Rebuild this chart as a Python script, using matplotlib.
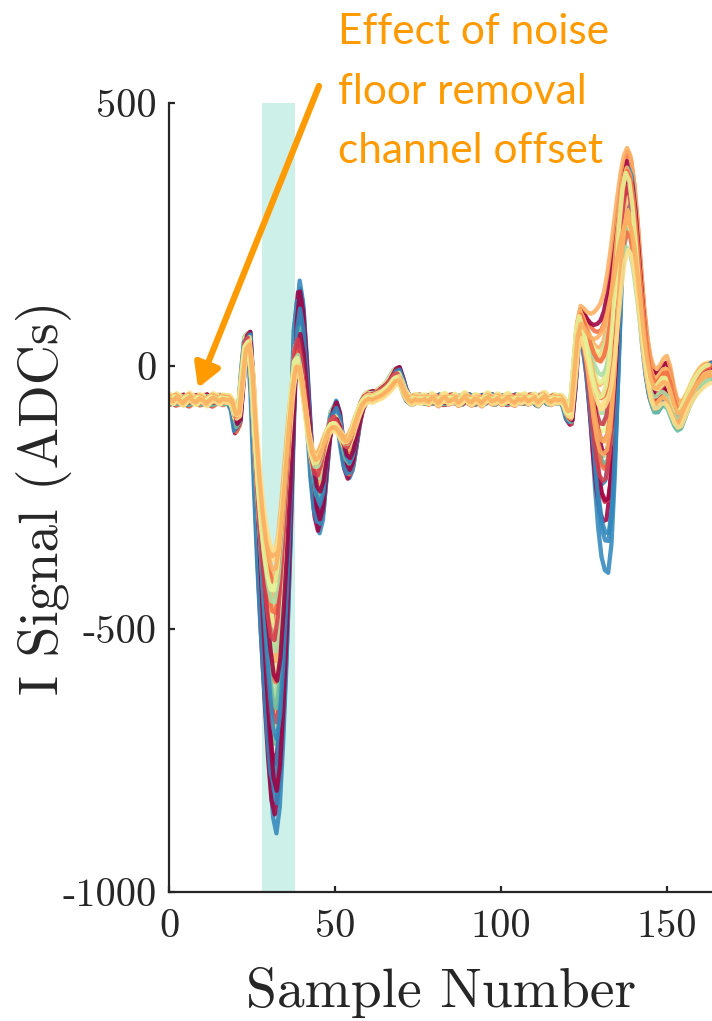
import numpy as np
import matplotlib
matplotlib.use("Agg")
import matplotlib.pyplot as plt

# ---------------- data ----------------
samples = np.arange(0, 164)

# baseline noise floor, two observed patterns (samples 0..16 and 77..115)
pre_a = [-60, -66, -58, -64, -70, -62, -57, -65, -68, -60, -63, -71, -64, -58, -62, -67, -61]
pre_b = [-68, -62, -70, -65, -59, -67, -72, -63, -60, -69, -66, -58, -67, -72, -65, -60, -68]
mid_a = [-62, -67, -59, -63, -70, -61, -58, -66, -64, -60, -69, -63, -57, -65, -68, -61, -63,
         -70, -62, -58, -66, -64, -60, -67, -63, -58, -65, -69, -61, -64, -59, -66, -63, -60,
         -68, -62, -57, -64, -67]
mid_b = [-66, -60, -68, -64, -58, -67, -71, -62, -59, -66, -61, -69, -65, -58, -63, -70, -64,
         -59, -67, -62, -58, -68, -63, -60, -66, -71, -62, -58, -65, -61, -68, -63, -59, -66,
         -70, -62, -60, -67, -63]

# first reflection, samples 17..76
p1_strong = [-64, -66, -80, -125, -110, -15, 55, 62, -60, -250,
             -410, -545, -665, -775, -860, -890, -840, -720, -570, -380,
             -150, 90, 160, 120, 20, -100, -215, -290, -320, -295,
             -220, -140, -85, -68, -90, -150, -195, -215, -200, -160,
             -115, -80, -62, -55, -52, -56, -50, -45, -40, -32,
             -20, -8, -5, -25, -48, -62, -66, -63, -60, -62]
p1_weak = [-63, -63, -70, -88, -85, -25, 30, 40, -10, -110,
           -190, -255, -300, -330, -345, -340, -300, -235, -160, -90,
           -35, -10, -15, -50, -95, -135, -160, -168, -160, -145,
           -130, -120, -118, -120, -128, -135, -138, -132, -118, -100,
           -85, -72, -65, -62, -64, -60, -58, -55, -50, -45,
           -38, -30, -28, -40, -55, -63, -67, -62, -65, -64]

# second reflection, samples 116..163
p2_weak = [-62, -64, -63, -70, -85, -85, -25, 35, 55, 45,
           30, 20, 15, 15, 22, 35, 55, 75, 100, 130,
           155, 172, 180, 172, 145, 105, 60, 15, -25, -55,
           -70, -68, -62, -62, -70, -85, -100, -108, -105, -92,
           -78, -66, -57, -50, -45, -40, -37, -35]
p2_deep = [-62, -64, -63, -72, -100, -112, -50, 40, 70, 20,
           -40, -130, -230, -310, -365, -390, -395, -340, -210, -30,
           160, 300, 365, 350, 290, 200, 110, 30, -30, -70,
           -90, -90, -80, -72, -78, -95, -112, -122, -118, -100,
           -80, -62, -48, -35, -24, -14, -6, 0]
p2_tall = [-62, -64, -63, -70, -85, -80, 10, 90, 120, 115,
           108, 105, 108, 115, 125, 145, 180, 225, 275, 325,
           370, 405, 420, 405, 360, 290, 205, 125, 65, 25,
           5, 0, 8, 20, 25, 5, -30, -55, -62, -58,
           -48, -35, -20, -8, 2, 8, 10, 10]

palette = ["#9e0142", "#d53e4f", "#f46d43", "#fdae61", "#fee08b",
           "#e6f598", "#abdda4", "#66c2a5", "#3288bd"]
ch_color = [8, 0, 6, 1, 7, 2, 5, 8, 0, 3, 6, 4, 1, 2, 8, 5, 0, 3, 7, 4,
            2, 6, 1, 3, 8, 4, 5, 0, 3, 2, 4, 1, 3, 6, 4, 2, 3, 4, 5, 3]
ch_a = [1.00, 0.92, 0.78, 0.85, 0.70, 0.80, 0.62, 0.90, 0.75, 0.58,
        0.52, 0.66, 0.60, 0.48, 0.82, 0.44, 0.86, 0.40, 0.55, 0.36,
        0.32, 0.38, 0.28, 0.26, 0.68, 0.22, 0.30, 0.46, 0.18, 0.24,
        0.14, 0.34, 0.10, 0.20, 0.06, 0.12, 0.04, 0.00, 0.16, 0.08]
ch_c = [1.00, 0.80, 0.55, 0.60, 0.45, 0.10, 0.40, 0.85, 0.05, 0.30,
        0.35, 0.20, 0.70, 0.50, 0.65, 0.25, 0.75, 0.15, 0.50, 0.40,
        0.60, 0.20, 0.45, 0.00, 0.90, 0.30, 0.10, 0.55, 0.35, 0.25,
        0.15, 0.65, 0.45, 0.05, 0.10, 0.20, 0.50, 0.25, 0.35, 0.00]
ch_p = [0.00, 0.15, 0.20, 0.30, 0.35, 0.90, 0.10, 0.05, 0.85, 0.50,
        0.25, 0.60, 0.10, 0.30, 0.20, 0.40, 0.20, 0.70, 0.00, 0.45,
        0.25, 0.30, 0.40, 1.00, 0.10, 0.20, 0.35, 0.35, 0.55, 0.10,
        0.50, 0.15, 0.15, 0.15, 0.30, 0.65, 0.05, 0.00, 0.50, 0.40]
ch_offset = [2, -6, 5, -3, 7, -8, 0, 4, -4, 6, -2, 8, -7, 3, -5, 1, 6, -1, -8, 4,
             -3, 7, 2, -6, 5, -2, 8, -5, 0, 3, -7, 6, -4, 1, 7, -3, 4, -6, 2, -1]
ch_shift = [0.3, -0.2, 0.1, 0.4, -0.4, 0.2, -0.1, 0.5, 0.0, -0.3,
            0.2, -0.2, 0.3, 0.1, -0.5, 0.0, 0.4, -0.1, 0.2, -0.3,
            0.1, 0.3, -0.2, 0.0, 0.4, -0.4, 0.2, 0.5, -0.1, 0.0,
            0.3, -0.3, 0.1, -0.2, 0.2, 0.0, -0.1, 0.3, -0.4, 0.1]

band_x = (28, 38)

xticks = [0, 50, 100, 150]
yticks = [-1000, -500, 0, 500]
ytick_labels = ["-1000", "-500", "0", "500"]

# ---------------- figure ----------------
plt.rcParams["font.family"] = "cmr10"
plt.rcParams["axes.unicode_minus"] = False
plt.rcParams["mathtext.fontset"] = "cm"

W, H = 712, 1021
fig = plt.figure(figsize=(W / 100, H / 100), dpi=100)
ax = fig.add_axes([169.3 / W, 1 - 892.3 / H, 1 - 169.3 / W, (892.3 - 102.7) / H])

pa, pb = np.array(pre_a, float), np.array(pre_b, float)
ma, mb = np.array(mid_a, float), np.array(mid_b, float)
s1, w1 = np.array(p1_strong, float), np.array(p1_weak, float)
wk, dp, tl = np.array(p2_weak, float), np.array(p2_deep, float), np.array(p2_tall, float)

for col, a, c, p, off, sh in zip(ch_color, ch_a, ch_c, ch_p, ch_offset, ch_shift):
    y = np.concatenate([
        pa + a * (pb - pa),
        w1 + a * (s1 - w1),
        ma + c * (mb - ma),
        wk + c * (dp - wk) + p * (tl - wk),
    ]) + off
    ax.plot(samples + sh, y, color=palette[col], lw=3.1, alpha=0.88,
            solid_joinstyle="round", solid_capstyle="round", zorder=2)

ax.axvspan(band_x[0], band_x[1], color="#cdf0e8", lw=0, zorder=1)

ax.set_xlim(0, 163.6)
ax.set_ylim(-1000, 500)
ax.set_xticks(xticks)
ax.set_yticks(yticks)
ax.set_yticklabels(ytick_labels)
ax.set_xticklabels([str(t) for t in xticks])

for s in ["top", "right"]:
    ax.spines[s].set_visible(False)
for s in ["left", "bottom"]:
    ax.spines[s].set_color("#262626")
    ax.spines[s].set_linewidth(1.6)
ax.tick_params(direction="in", length=4, width=1.6, color="#262626",
               labelsize=29, labelcolor="#262626")
ax.tick_params(axis="x", pad=12)
ax.tick_params(axis="y", pad=9)

ax.set_xlabel("Sample Number", fontsize=40, color="#262626")
ax.set_ylabel("I Signal (ADCs)", fontsize=40, color="#262626")
ax.xaxis.set_label_coords(0.5, -0.094)
ax.yaxis.set_label_coords(-0.179, 0.5)

orange = "#FF9A00"
fig.text(338 / W, 1 - 13 / H, "Effect of noise\nfloor removal\nchannel offset",
         family="Lato", fontsize=30.5, color=orange, ha="left", va="top",
         linespacing=1.7)

ax.annotate("", xy=(198, H - 388), xycoords="figure pixels",
            xytext=(319, H - 86), textcoords="figure pixels",
            arrowprops=dict(arrowstyle="-|>,head_length=1.4,head_width=0.8",
                            color=orange, lw=4.5, shrinkA=0, shrinkB=0),
            annotation_clip=False)

fig.savefig("out.png", dpi=100)
